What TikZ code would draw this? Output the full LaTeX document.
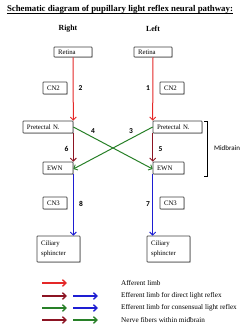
\documentclass[tikz,border=0pt]{standalone}
\usepackage{fontspec}
\setmainfont{Liberation Serif}
\newfontfamily\carl{Carlito}
\usetikzlibrary{arrows.meta,shadows}
\definecolor{redA}{RGB}{228,40,40}
\definecolor{dredA}{RGB}{140,20,35}
\definecolor{greenA}{RGB}{40,128,40}
\definecolor{blueA}{RGB}{30,30,210}
\tikzset{
  box/.style={draw=black!75, line width=0.7pt, fill=white, rounded corners=0.6pt,
    inner xsep=4pt, inner ysep=0pt, align=left, font=\fontsize{6.8}{9.5}\selectfont,
    drop shadow={shadow xshift=0.8pt, shadow yshift=-0.8pt, fill=black!35, opacity=0.6}},
  conn/.style={line width=1pt, -{Straight Barb[length=3pt,width=6pt,line width=0.9pt]}},
  leg/.style={line width=1.6pt, -{Straight Barb[length=3.5pt,width=6.5pt,line width=1.4pt]}},
  num/.style={font=\carl\bfseries\fontsize{7.5}{8}\selectfont},
  legtxt/.style={anchor=west, inner sep=0pt, font=\fontsize{7.2}{8}\selectfont},
}
\begin{document}
\begin{tikzpicture}[x=1pt,y=-1pt]
\useasboundingbox (0,0) rectangle (250,329);
% title
\node[anchor=base, inner sep=0pt, font=\bfseries\fontsize{8.8}{10}\selectfont] (title) at (120,11.5)
  {Schematic diagram of pupillary light reflex neural pathway:};
\draw[line width=0.6pt] ([yshift=-1.6pt]title.base west) -- ([yshift=-1.6pt]title.base east);
\node[font=\bfseries\fontsize{7.8}{9}\selectfont] (right) at (68,29) {Right};
\node[font=\bfseries\fontsize{7.8}{9}\selectfont] (left) at (153,29) {Left};
% boxes
\node[box, text width=30pt, minimum height=10pt] (retL) at (73,52) {Retina};
\node[box, text width=30pt, minimum height=10pt] (retR) at (153,52) {Retina};
\node[box, text width=16pt, minimum height=12pt] (cn2L) at (55,88) {CN2};
\node[box, text width=16pt, minimum height=12pt] (cn2R) at (172,88) {CN2};
\node[box, text width=42pt, minimum height=12pt] (preL) at (48,127) {Pretectal N.};
\node[box, text width=41pt, minimum height=12pt] (preR) at (177.5,127) {Pretectal N.};
\node[box, text width=22pt, minimum height=12pt] (ewnL) at (58,168) {EWN};
\node[box, text width=23pt, minimum height=12pt] (ewnR) at (168.5,168) {EWN};
\node[box, text width=16pt, minimum height=12pt] (cn3L) at (55,203) {CN3};
\node[box, text width=16pt, minimum height=12pt] (cn3R) at (172,203) {CN3};
\node[box, text width=35pt, minimum height=26pt] (cilL) at (58.5,249) {Ciliary\\sphincter};
\node[box, text width=35pt, minimum height=26pt] (cilR) at (168.5,249) {Ciliary\\sphincter};
% connectors
\draw[conn, redA] (retL.south) -- (preL.north east);
\draw[conn, redA] (retR.south) -- (preR.north west);
\draw[conn, dredA] (preL.south east) -- (ewnL.north east);
\draw[conn, dredA] (preR.south west) -- (ewnR.north west);
\draw[conn, greenA] (preL.east) -- ([yshift=-1pt]ewnR.west);
\draw[conn, greenA] (preR.west) -- ([yshift=-1pt]ewnL.east);
\draw[conn, blueA] (ewnL.south east) -- (ewnL.south east |- cilL.north);
\draw[conn, blueA] (ewnR.south west) -- (ewnR.south west |- cilR.north);
% numbers
\node[num] (n2) at (80.5,88) {2};
\node[num] (n1) at (148,88) {1};
\node[num] (n4) at (93,131) {4};
\node[num] (n3) at (131,131) {3};
\node[num] (n6) at (66.5,149) {6};
\node[num] (n5) at (160.5,149) {5};
\node[num] (n8) at (81,204) {8};
\node[num] (n7) at (148,204) {7};
% midbrain bracket
\coordinate (bt) at (207,121);
\coordinate (bb) at (207,176);
\draw[line width=0.9pt] ([xshift=-3pt]bt) -- (bt) -- (bb) -- ([xshift=-3pt]bb);
\node[font=\carl\fontsize{7}{8}\selectfont] (mid) at (227,148) {Midbrain};
% legend
\foreach \i/\y in {1/283,2/296,3/308,4/320}{
  \coordinate (a\i s) at (42,\y); \coordinate (a\i e) at (67,\y);
  \coordinate (b\i s) at (73,\y); \coordinate (b\i e) at (98,\y);
}
\draw[leg, redA] (a1s) -- (a1e);
\draw[leg, dredA] (a2s) -- (a2e);
\draw[leg, blueA] (b2s) -- (b2e);
\draw[leg, greenA] (a3s) -- (a3e);
\draw[leg, blueA] (b3s) -- (b3e);
\draw[leg, dredA] (a4s) -- (a4e);
\draw[leg, greenA] (b4s) -- (b4e);
\node[legtxt] (l1) at (121,283) {Afferent limb};
\node[legtxt] (l2) at (121,296) {Efferent limb for direct light reflex};
\node[legtxt] (l3) at (121,308) {Efferent limb for consensual light reflex};
\node[legtxt] (l4) at (121,320) {Nerve fibers within midbrain};
\end{tikzpicture}
\end{document}
